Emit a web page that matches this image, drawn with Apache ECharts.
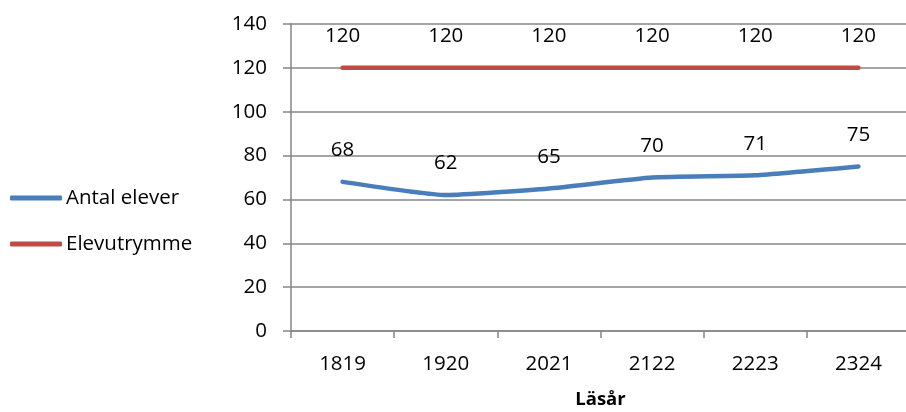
<!DOCTYPE html>
<html><head><meta charset="utf-8">
<script src="https://cdn.jsdelivr.net/npm/echarts@6/dist/echarts.min.js"></script>
<style>html,body{margin:0;padding:0;background:#fff}#c{width:906px;height:412px}</style>
</head><body><div id="c"></div>
<script>
const categories = ['1819','1920','2021','2122','2223','2324'];
const antalElever = [68, 62, 65, 70, 71, 75];
const elevutrymme = [120, 120, 120, 120, 120, 120];
const yTicks = [0, 20, 40, 60, 80, 100, 120, 140];

const font = 'Open Sans';
const fs = 20.5;
const chart = echarts.init(document.getElementById('c'));
chart.setOption({
  animation: false,
  textStyle: {fontFamily: font},
  legend: {
    orient: 'vertical', left: 10, top: 186, itemGap: 22, padding: 0,
    itemWidth: 52, itemHeight: 5, icon: 'roundRect',
    textStyle: {fontFamily: font, fontSize: fs, lineHeight: 24, color: '#000', padding: [0,0,0,-1]},
    data: ['Antal elever', 'Elevutrymme']
  },
  grid: {left: 291, right: -4, top: 24, bottom: 81, containLabel: false, outerBoundsMode: 'none'},
  xAxis: {
    type: 'category', data: categories, boundaryGap: true,
    name: 'Läsår', nameLocation: 'middle', nameGap: 59,
    nameTextStyle: {fontFamily: font, fontSize: 18.5, fontWeight: 'bold', color: '#000'},
    axisLine: {lineStyle: {color: '#868686', width: 1.5}},
    axisTick: {show: true, length: 7, lineStyle: {color: '#868686', width: 1.5}},
    axisLabel: {fontFamily: font, fontSize: fs, color: '#000', margin: 23}
  },
  yAxis: {
    type: 'value', min: yTicks[0], max: yTicks[yTicks.length-1], interval: 20,
    axisLine: {show: true, lineStyle: {color: '#868686', width: 1.5}},
    axisTick: {show: true, length: 8, inside: false, lineStyle: {color: '#868686', width: 1.5}},
    splitLine: {lineStyle: {color: '#868686', width: 1.5}},
    axisLabel: {fontFamily: font, fontSize: fs, color: '#000', margin: 24}
  },
  series: [
    {
      name: 'Antal elever', type: 'line', data: antalElever,
      symbol: 'circle', symbolSize: 0.1, showSymbol: true, smooth: 0.15,
      lineStyle: {color: '#4A7EBB', width: 4.5, cap: 'round'},
      itemStyle: {color: '#4A7EBB'},
      label: {show: true, position: 'top', distance: 21, fontFamily: font, fontSize: fs, color: '#000'}
    },
    {
      name: 'Elevutrymme', type: 'line', data: elevutrymme,
      symbol: 'circle', symbolSize: 0.1, showSymbol: true,
      lineStyle: {color: '#BE4B48', width: 4.5, cap: 'round'},
      itemStyle: {color: '#BE4B48'},
      label: {show: true, position: 'top', distance: 21, fontFamily: font, fontSize: fs, color: '#000'}
    }
  ]
});
</script></body></html>
